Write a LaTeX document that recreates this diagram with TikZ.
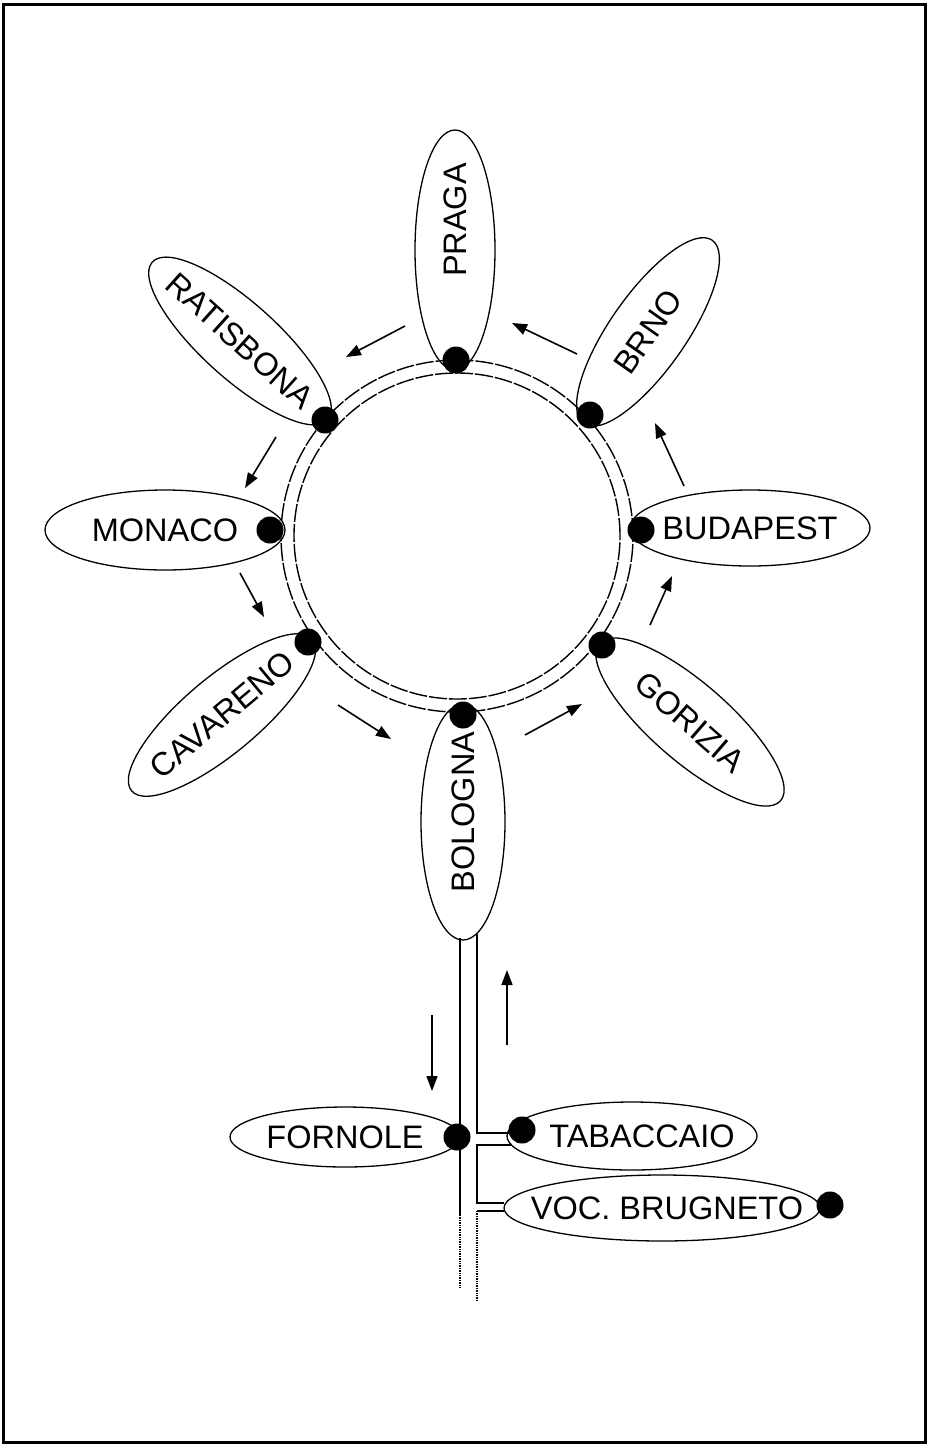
\documentclass[tikz,border=0pt]{standalone}
\usepackage{fontspec}
\setmainfont{Liberation Sans}
\usetikzlibrary{arrows.meta,shapes.geometric}

\begin{document}
\begin{tikzpicture}[
	x=1pt, y=-1pt,
	font=\fontsize{32.5}{39}\selectfont,
	town/.style={
		ellipse, draw=black, line width=1.3pt,
		inner sep=0pt
	},
	stop/.style={
		circle, fill=black,
		minimum size=27pt, inner sep=0pt
	},
	ring/.style={line width=1.4pt, dash pattern=on 18pt off 2pt},
	road/.style={line width=1.4pt},
	flow/.style={-{Triangle[length=15pt, width=11pt]}, line width=1.6pt}
]

\useasboundingbox (0,0) rectangle (928,1446);
\draw[line width=3pt] (3,4) rectangle (925,1442);

% Ring x=457 y=536
\draw[ring] (457,536) circle[radius=176pt];
\draw[ring] (457,536) circle[radius=163pt];

% Towns round the ring
\node[town, rotate=90, minimum width=240pt, minimum height=80pt] (praga) at (455,250) {\makebox[0pt]{\hspace*{60pt}PRAGA}};
\node[town, rotate=55, minimum width=224pt, minimum height=76pt] (brno) at (648,332) {\makebox[0pt]{BRNO}};
\node[town, minimum width=240pt, minimum height=76pt] (budapest) at (750,528) {\makebox[0pt]{BUDAPEST}};
\node[town, rotate=-41, minimum width=240pt, minimum height=78pt] (gorizia) at (690,722) {\makebox[0pt]{GORIZIA}};
\node[town, rotate=90, minimum width=236pt, minimum height=84pt] (bologna) at (463,822) {\makebox[0pt]{\hspace*{20pt}BOLOGNA}};
\node[town, rotate=40, minimum width=236pt, minimum height=76pt] (cavareno) at (222,715) {\makebox[0pt]{CAVARENO}};
\node[town, minimum width=240pt, minimum height=80pt] (monaco) at (165,530) {\makebox[0pt]{MONACO}};
\node[town, rotate=-42, minimum width=236pt, minimum height=76pt] (ratisbona) at (240,341) {\makebox[0pt]{RATISBONA}};

% Stops on the ring
\node[stop] (dpraga)     at (456,360) {};
\node[stop] (dbrno)      at (590,415) {};
\node[stop] (dbudapest)  at (641,530) {};
\node[stop] (dgorizia)   at (602,645) {};
\node[stop] (dbologna)   at (463,715) {};
\node[stop] (dcavareno)  at (308,642) {};
\node[stop] (dmonaco)    at (270,530) {};
\node[stop] (dratisbona) at (325,420) {};

% Direction of travel
\draw[flow] (405,326) -- (346,357);
\draw[flow] (577,354) -- (512,323);
\draw[flow] (684,486) -- (655,423);
\draw[flow] (650,625) -- (672,576);
\draw[flow] (525,735) -- (582,704);
\draw[flow] (338,705) -- (391,739);
\draw[flow] (240,573) -- (264,617);
\draw[flow] (276,437) -- (245,488);

% Stem below Bologna
\node[town, minimum width=230pt, minimum height=60pt] (fornole) at (345,1137) {\makebox[0pt]{FORNOLE}};
\node[town, minimum width=250pt, minimum height=68pt] (tabaccaio) at (632,1136) {\makebox[0pt]{\hspace*{20pt}TABACCAIO}};
\node[town, minimum width=316pt, minimum height=66pt] (brugneto) at (662,1208) {\makebox[0pt]{\hspace*{10pt}VOC. BRUGNETO}};

\coordinate (stemL) at (460,938);
\coordinate (stemR) at (477,934);
\draw[road] (stemL) -- (460,1215);
\draw[road, densely dotted] (460,1215) -- (460,1288);
\draw[road] (stemR) -- (477,1133) -- (510,1133);
\draw[road] (511,1145) -- (477,1145) -- (477,1203) -- (504,1203);
\draw[road] (504,1211) -- (477,1211);
\draw[road, densely dotted] (477,1211) -- (477,1300);

\node[stop] (dfornole)   at (457,1137) {};
\node[stop] (dtabaccaio) at (522,1130) {};
\node[stop] (dbrugneto)  at (830,1205) {};

\draw[flow] (432,1015) -- (432,1091);
\draw[flow] (507,1045) -- (507,970);

\end{tikzpicture}
\end{document}
